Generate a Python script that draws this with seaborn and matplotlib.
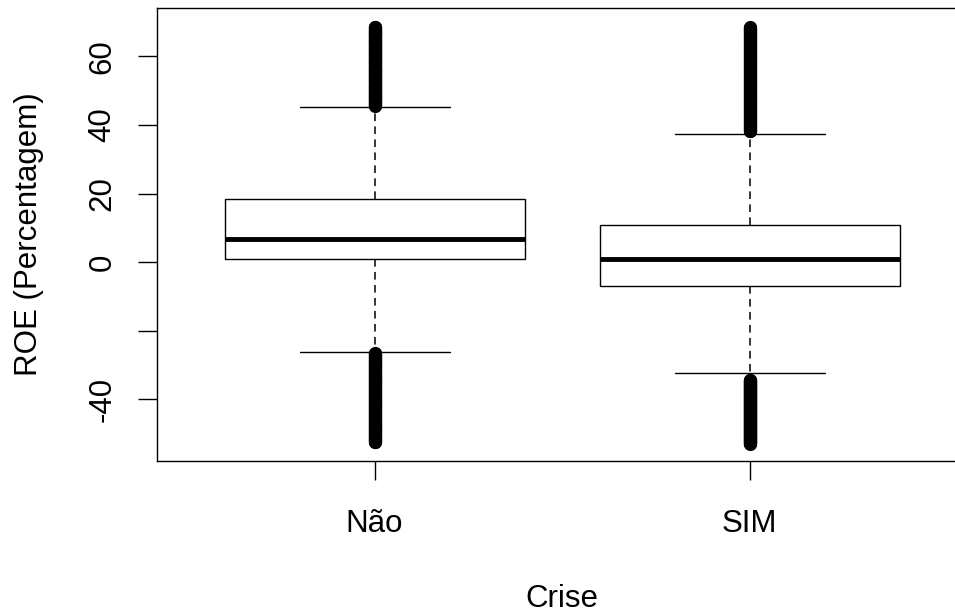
import numpy as np
import pandas as pd
import matplotlib
matplotlib.use("Agg")
import matplotlib.pyplot as plt
import seaborn as sns

# Summary of ROE (%) by crisis period
groups = ["Não", "SIM"]
q1 = [0.8, -6.9]
median = [6.7, 0.9]
q3 = [18.3, 10.7]
whisker_low = [-26.1, -32.4]
whisker_high = [45.3, 37.3]
# dense runs of outlying observations beyond each whisker: (nearest, farthest)
outliers_low = [(-26.5, -52.5), (-34.3, -53.0)]
outliers_high = [(45.6, 68.6), (38.1, 68.6)]

y_ticks = [-40, -20, 0, 20, 40, 60]
y_tick_labels = ["-40", "", "0", "20", "40", "60"]


def group_sample(i, k=200, n_out=150):
    """Observations whose quartiles, whisker ends and outliers reproduce the summary."""
    lo = list(np.linspace(outliers_low[i][1], outliers_low[i][0], n_out))
    hi = list(np.linspace(outliers_high[i][0], outliers_high[i][1], n_out))
    vals = (lo + [whisker_low[i]]
            + [q1[i]] * (2 * k - 1 - n_out)
            + [median[i]]
            + [q3[i]] * (2 * k - n_out - 1)
            + [whisker_high[i]] + hi)
    return vals


rows = []
for i, g in enumerate(groups):
    for v in group_sample(i):
        rows.append((g, v))
df = pd.DataFrame(rows, columns=["Crise", "ROE"])

sns.set_style("white")
plt.rcParams["font.family"] = ["Liberation Sans", "DejaVu Sans"]
plt.rcParams["text.color"] = "black"
plt.rcParams["axes.labelcolor"] = "black"
plt.rcParams["xtick.color"] = "black"
plt.rcParams["ytick.color"] = "black"
fs = 22.5

fig = plt.figure(figsize=(9.55, 6.16), dpi=100)
ax = fig.add_axes([157 / 955, 1 - 461 / 616, 810 / 955, 453 / 616])

lw = 1.0
sns.boxplot(
    data=df, x="Crise", y="ROE", order=groups, ax=ax,
    color="white", linecolor="black", linewidth=lw, width=0.8, whis=1.55,
    fill=True, saturation=1,
    boxprops=dict(facecolor="white", edgecolor="black", linewidth=lw),
    medianprops=dict(color="black", linewidth=3.5),
    whiskerprops=dict(color="black", linewidth=1.1, linestyle=(0, (5, 3.5))),
    capprops=dict(color="black", linewidth=lw),
    flierprops=dict(marker="o", markerfacecolor="none", markeredgecolor="black",
                    markersize=8.5, markeredgewidth=1.0),
)

ax.set_xlim(-0.58, 1.58)
ax.set_ylim(-58.0, 74.1)
ax.set_yticks(y_ticks)
ax.set_yticklabels(y_tick_labels, rotation=90, va="center", fontsize=fs)
ax.set_xticks(range(len(groups)))
ax.set_xticklabels(groups, fontsize=fs)
ax.tick_params(axis="both", direction="out", length=13.5, width=1.0, color="black")
ax.tick_params(axis="y", pad=15, left=True)
ax.tick_params(axis="x", pad=21, bottom=True)

for s in ax.spines.values():
    s.set_visible(True)
    s.set_color("black")
    s.set_linewidth(1.0)

ax.set_xlabel("Crise", fontsize=fs)
ax.set_ylabel("ROE (Percentagem)", fontsize=fs)
ax.xaxis.set_label_coords(0.5, -0.272)
ax.yaxis.set_label_coords(-0.14, 0.5)

fig.savefig("out.png", dpi=100)
